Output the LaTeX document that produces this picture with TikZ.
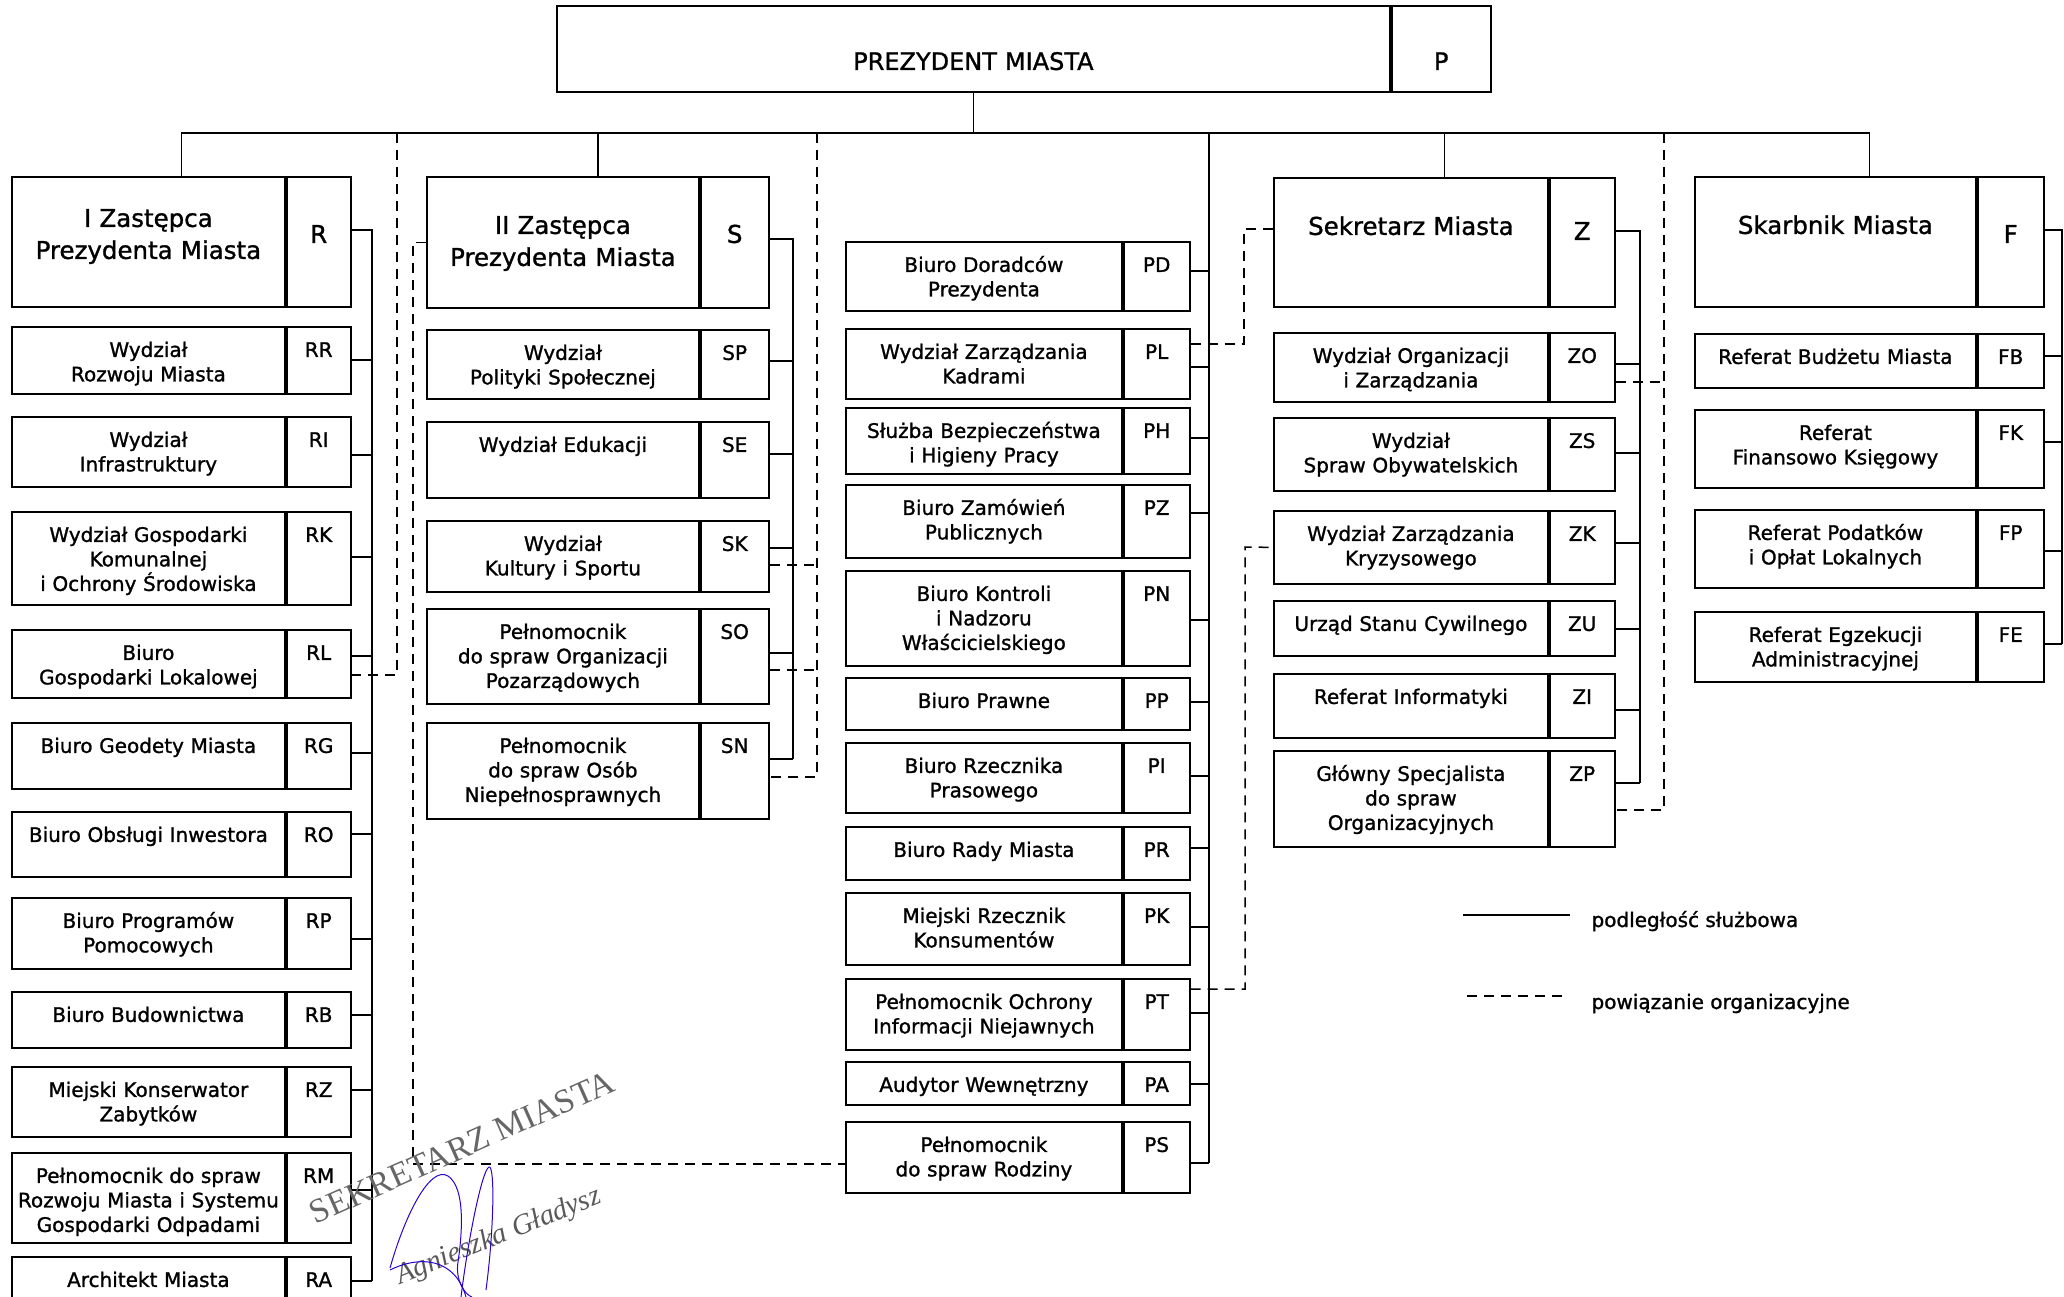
\documentclass[tikz,border=0pt]{standalone}
\usepackage{fontspec}
\setmainfont{DejaVu Sans}
\newfontfamily\boxfont{DejaVu Sans}[FakeBold=1.2]
\newfontfamily\stampfont{Liberation Serif}
\usetikzlibrary{calc}
\tikzset{
	box/.style={draw, line width=1.8pt, inner sep=0pt, anchor=north west, align=center},
	unit/.style={box, font=\boxfont\fontsize{20}{24.5}\selectfont, text height=30pt},
	head/.style={box, font=\boxfont\fontsize{24.5}{32}\selectfont, text height=57pt},
	link/.style={line width=1.5pt},
	dashlink/.style={line width=1.5pt, dash pattern=on 10pt off 7pt},
	stamp/.style={rotate=24, text=black!60, font=\stampfont\fontsize{34}{34}\selectfont},
	sign/.style={rotate=22, text=black!65, font=\stampfont\itshape\fontsize{29}{29}\selectfont},
	scribble/.style={line width=1pt, draw=blue!65!violet},
}
\begin{document}
\begin{tikzpicture}[x=1pt,y=-1pt]
		\useasboundingbox (0,0) rectangle (2064,1297);
		% heads
		\node[box, font=\boxfont\fontsize{24}{30}\selectfont, text width=833pt, text height=64pt, text depth=22pt] (Pn) at (556,5) {PREZYDENT MIASTA};
		\node[box, font=\boxfont\fontsize{24}{30}\selectfont, text width=99pt, text height=64pt, text depth=22pt] (P) at (Pn.north east) {P};
		\node[head, text width=273pt, text height=50pt, text depth=80pt] (Rn) at (11,176) {I Zastępca\\Prezydenta Miasta};
		\node[head, text width=64pt, text height=66pt, text depth=64pt] (R) at (Rn.north east) {R};
		\node[head, text width=272pt, text depth=74pt] (Sn) at (426,176) {II Zastępca\\Prezydenta Miasta};
		\node[head, text width=68pt, text height=66pt, text depth=65pt] (S) at (Sn.north east) {S};
		\node[head, text width=274pt, text depth=72pt] (Zn) at (1273,177) {Sekretarz Miasta};
		\node[head, text width=65pt, text height=62pt, text depth=67pt] (Z) at (Zn.north east) {Z};
		\node[head, text width=281pt, text depth=73pt] (Fn) at (1694,176) {Skarbnik Miasta};
		\node[head, text width=66pt, text height=66pt, text depth=64pt] (F) at (Fn.north east) {F};

		\coordinate (Rbus) at (372,0);
		\coordinate (Sbus) at (793,0);
		\coordinate (Pbus) at (1209,133);
		\coordinate (Zbus) at (1640,0);
		\coordinate (Fbus) at (2062,0);

		% I Zastepca
		\foreach \id/\t/\b/\txt/\cy in {
			RR/326/393/{Wydział\\Rozwoju Miasta}/360,
			RI/416/486/{Wydział\\Infrastruktury}/455,
			RK/511/604/{Wydział Gospodarki\\Komunalnej\\i Ochrony Środowiska}/557,
			RL/629/697/{Biuro\\Gospodarki Lokalowej}/656,
			RG/722/788/{Biuro Geodety Miasta}/753,
			RO/811/876/{Biuro Obsługi Inwestora}/834,
			RP/897/968/{Biuro Programów\\Pomocowych}/939,
			RB/991/1047/{Biuro Budownictwa}/1015,
			RZ/1066/1136/{Miejski Konserwator\\Zabytków}/1090,
			RM/1152/1242/{Pełnomocnik do spraw\\Rozwoju Miasta i Systemu\\Gospodarki Odpadami}/1190,
			RA/1256/1310/{Architekt Miasta}/1281}
		{
			\pgfmathsetmacro\dep{\b-\t-30}
			\node[unit, text width=273pt, text depth=\dep pt] (\id n) at (11,\t) {\txt};
			\node[unit, text width=64pt, text depth=\dep pt] (\id) at (\id n.north east) {\id};
			\draw[link] (\id.east |- 0,\cy) -- (Rbus |- 0,\cy);
		}
		% II Zastepca
		\foreach \id/\t/\b/\txt/\cy in {
			SP/329/398/{Wydział\\Polityki Społecznej}/361,
			SE/421/497/{Wydział Edukacji}/454,
			SK/520/591/{Wydział\\Kultury i Sportu}/548,
			SO/608/703/{Pełnomocnik\\do spraw Organizacji\\Pozarządowych}/653,
			SN/722/818/{Pełnomocnik\\do spraw Osób\\Niepełnosprawnych}/759}
		{
			\pgfmathsetmacro\dep{\b-\t-30}
			\node[unit, text width=272pt, text depth=\dep pt] (\id n) at (426,\t) {\txt};
			\node[unit, text width=68pt, text depth=\dep pt] (\id) at (\id n.north east) {\id};
			\draw[link] (\id.east |- 0,\cy) -- (Sbus |- 0,\cy);
		}
		% Prezydent
		\foreach \id/\t/\b/\txt/\cy in {
			PD/241/310/{Biuro Doradców\\Prezydenta}/271,
			PL/328/398/{Wydział Zarządzania\\Kadrami}/367,
			PH/407/473/{Służba Bezpieczeństwa\\i Higieny Pracy}/438,
			PZ/484/557/{Biuro Zamówień\\Publicznych}/513,
			PN/570/665/{Biuro Kontroli\\i Nadzoru\\Właścicielskiego}/620,
			PP/677/729/{Biuro Prawne}/702,
			PI/742/812/{Biuro Rzecznika\\Prasowego}/776,
			PR/826/879/{Biuro Rady Miasta}/848,
			PK/892/964/{Miejski Rzecznik\\Konsumentów}/927,
			PT/978/1049/{Pełnomocnik Ochrony\\Informacji Niejawnych}/1013,
			PA/1061/1104/{Audytor Wewnętrzny}/1084,
			PS/1121/1192/{Pełnomocnik\\do spraw Rodziny}/1163}
		{
			\pgfmathsetmacro\dep{\b-\t-30}
			\node[unit, text width=276pt, text depth=\dep pt] (\id n) at (845,\t) {\txt};
			\node[unit, text width=66pt, text depth=\dep pt] (\id) at (\id n.north east) {\id};
			\draw[link] (\id.east |- 0,\cy) -- (Pbus |- 0,\cy);
		}
		% Sekretarz
		\foreach \id/\t/\b/\txt/\cy in {
			ZO/332/401/{Wydział Organizacji\\i Zarządzania}/364,
			ZS/417/490/{Wydział\\Spraw Obywatelskich}/453,
			ZK/510/583/{Wydział Zarządzania\\Kryzysowego}/543,
			ZU/600/655/{Urząd Stanu Cywilnego}/629,
			ZI/673/737/{Referat Informatyki}/710,
			ZP/750/846/{Główny Specjalista\\do spraw\\Organizacyjnych}/783}
		{
			\pgfmathsetmacro\dep{\b-\t-30}
			\node[unit, text width=274pt, text depth=\dep pt] (\id n) at (1273,\t) {\txt};
			\node[unit, text width=65pt, text depth=\dep pt] (\id) at (\id n.north east) {\id};
			\draw[link] (\id.east |- 0,\cy) -- (Zbus |- 0,\cy);
		}
		% Skarbnik
		\foreach \id/\t/\b/\txt/\cy in {
			FB/333/387/{Referat Budżetu Miasta}/356,
			FK/409/487/{Referat\\Finansowo Księgowy}/442,
			FP/509/587/{Referat Podatków\\i Opłat Lokalnych}/551,
			FE/611/681/{Referat Egzekucji\\Administracyjnej}/644}
		{
			\pgfmathsetmacro\dep{\b-\t-30}
			\node[unit, text width=281pt, text depth=\dep pt] (\id n) at (1694,\t) {\txt};
			\node[unit, text width=66pt, text depth=\dep pt] (\id) at (\id n.north east) {\id};
			\draw[link] (\id.east |- 0,\cy) -- (Fbus |- 0,\cy);
		}

		% top distribution
		\coordinate (hub) at (Pn.south |- 0,133);
		\coordinate (Rtop) at ($(Rn.north west)!.5!(R.north east)$);
		\coordinate (Stop) at ($(Sn.north west)!.5!(S.north east)$);
		\coordinate (Ztop) at ($(Zn.north west)!.5!(Z.north east)$);
		\coordinate (Ftop) at ($(Fn.north west)!.5!(F.north east)$);
		\draw[link] (Pn.south) -- (hub);
		\draw[link] (Rtop) |- (hub) -| (Ftop);
		\draw[link] (Stop) -- (Stop |- hub);
		\draw[link] (Ztop) -- (Ztop |- hub);

		% buses
		\draw[link] (R.east |- 0,230) -| (Rbus |- 0,1281);
		\draw[link] (S.east |- 0,239) -| (Sbus |- 0,759);
		\draw[link] (Pbus) -- (Pbus |- 0,1163);
		\draw[link] (Z.east |- 0,231) -| (Zbus |- 0,783);
		\draw[link] (F.east |- 0,230) -| (Fbus |- 0,644);

		% dashed links
		\coordinate (d1) at (397,133);
		\coordinate (d3) at (817,133);
		\coordinate (d6) at (1664,133);
		\draw[dashlink] (d1) |- (RL.east |- 0,675);
		\draw[dashlink] (d3) |- (SN.east |- 0,777);
		\draw[dashlink] (SK.east |- 0,565) -- (d3 |- 0,565);
		\draw[dashlink] (SO.east |- 0,670) -- (d3 |- 0,670);
		\draw[dashlink] (d6) |- (ZP.east |- 0,810);
		\draw[dashlink] (ZO.east |- 0,382) -- (d6 |- 0,382);
		\draw[dashlink] (Sn.west) -- ++(-13,0) |- (PSn.west |- 0,1164);
		\draw[dashlink] (PL.east |- 0,344) -| (1244,229) -- (Zn.west |- 0,229);
		\draw[dashlink] (PT.east |- 0,989) -| (1245,547) -- (ZKn.west);

		% legend
		\coordinate (solid a) at (1463,915);
		\coordinate (solid b) at (1570,915);
		\coordinate (dash a) at (1467,996);
		\coordinate (dash b) at (1567,996);
		\draw[link] (solid a) -- (solid b);
		\draw[dashlink] (dash a) -- (dash b);
		\node[anchor=base west, font=\boxfont\fontsize{20}{24}\selectfont] (solid txt) at (1588,927) {podległość służbowa};
		\node[anchor=base west, font=\boxfont\fontsize{20}{24}\selectfont] (dash txt) at (1588,1009) {powiązanie organizacyjne};

		% stamp
		\node[stamp] (stamp) at (462,1147) {SEKRETARZ MIASTA};
		\node[sign] (signature) at (499,1237) {Agnieszka Gładysz};
		\draw[scribble] (390,1268) .. controls (405,1215) and (430,1165) .. (448,1176) .. controls (466,1188) and (462,1235) .. (458,1262) .. controls (455,1280) and (465,1295) .. (472,1297);
		\draw[scribble] (390,1270) .. controls (420,1255) and (455,1258) .. (466,1297);
		\draw[scribble] (461,1297) .. controls (468,1240) and (482,1170) .. (489,1167) .. controls (495,1165) and (494,1230) .. (486,1290);
\end{tikzpicture}
\end{document}
